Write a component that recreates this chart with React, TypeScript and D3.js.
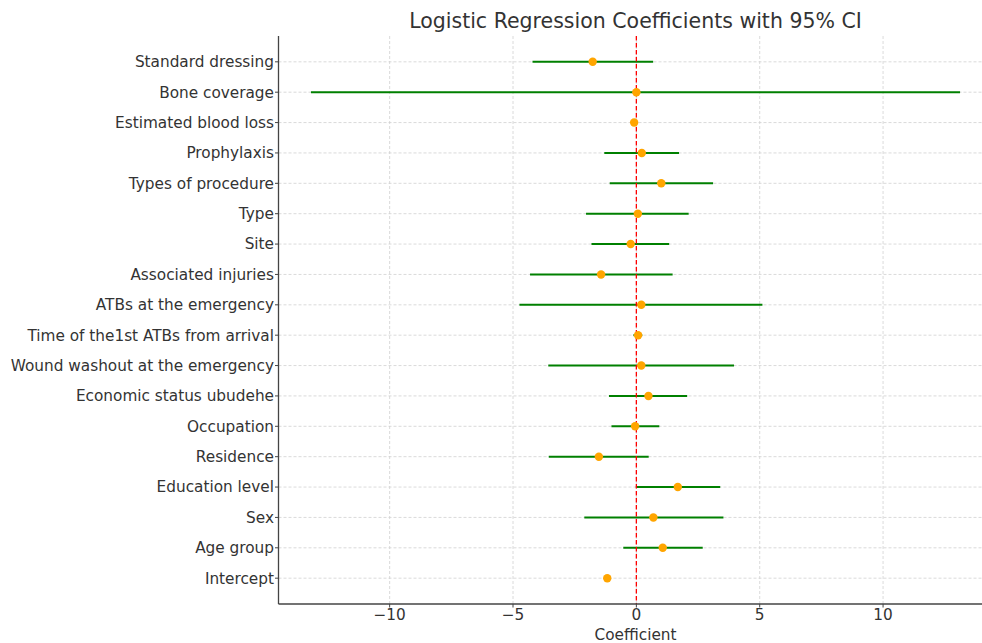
import React from "react";
import * as d3 from "d3";

// variables listed top to bottom as in the figure
const variables = [
  "Standard dressing",
  "Bone coverage",
  "Estimated blood loss",
  "Prophylaxis",
  "Types of procedure",
  "Type",
  "Site",
  "Associated injuries",
  "ATBs at the emergency",
  "Time of the1st ATBs from arrival",
  "Wound washout at the emergency",
  "Economic status ubudehe",
  "Occupation",
  "Residence",
  "Education level",
  "Sex",
  "Age group",
  "Intercept",
];
const coef = [-1.77, 0.0, -0.09, 0.22, 1.01, 0.06, -0.23, -1.43, 0.2, 0.07, 0.2, 0.49, -0.05, -1.52, 1.68, 0.69, 1.07, -1.18];
const ciLow = [-4.21, -13.19, -0.13, -1.3, -1.08, -2.04, -1.82, -4.31, -4.74, -0.12, -3.57, -1.11, -1.01, -3.55, -0.02, -2.11, -0.53, null];
const ciHigh = [0.68, 13.12, -0.05, 1.73, 3.11, 2.12, 1.33, 1.47, 5.11, 0.24, 3.96, 2.06, 0.93, 0.5, 3.4, 3.53, 2.69, null];
const xTicks = [-10, -5, 0, 5, 10];

const W = 982;
const H = 643;
const font = "DejaVu Sans, sans-serif";

export default function App() {
  const left = 278.5;
  const right = 992.5;
  const top = 36;
  const bottom = 604;

  const lows = ciLow.filter((d) => d !== null) as number[];
  const highs = ciHigh.filter((d) => d !== null) as number[];
  const lo = d3.min(lows)!;
  const hi = d3.max(highs)!;
  const pad = (hi - lo) * 0.05;
  const x = d3.scaleLinear().domain([lo - pad, hi + pad]).range([left, right]);

  const n = variables.length;
  const m = (n - 1) * 0.05;
  // index 0 at the top
  const y = d3.scaleLinear().domain([-m, n - 1 + m]).range([top, bottom]);

  return (
    <svg width={W} height={H} style={{ position: "absolute", left: 0, top: 0, background: "#fff" }} fontFamily={font}>
      <defs>
        <clipPath id="plot">
          <rect x={left} y={top} width={right - left} height={bottom - top} />
        </clipPath>
      </defs>
      {/* grid */}
      <g stroke="#d0d0d0" strokeWidth={0.8} strokeDasharray="3,2">
        {xTicks.map((t) => (
          <line key={t} x1={x(t)} x2={x(t)} y1={top} y2={bottom} />
        ))}
        {variables.map((v, i) => (
          <line key={v} x1={left} x2={right} y1={y(i)} y2={y(i)} />
        ))}
      </g>
      <g clipPath="url(#plot)">
        {variables.map((v, i) =>
          ciLow[i] !== null ? (
            <line key={v} x1={x(ciLow[i] as number)} x2={x(ciHigh[i] as number)} y1={y(i)} y2={y(i)} stroke="green" strokeWidth={2} />
          ) : null
        )}
        <line x1={x(0)} x2={x(0)} y1={top} y2={bottom} stroke="red" strokeWidth={1.3} strokeDasharray="4.5,2.5" />
        {variables.map((v, i) => (
          <circle key={v} cx={x(coef[i])} cy={y(i)} r={4.2} fill="orange" />
        ))}
      </g>
      {/* spines */}
      <g stroke="#444" strokeWidth={1.3}>
        <line x1={left} x2={left} y1={top} y2={bottom} />
        <line x1={left} x2={right} y1={bottom} y2={bottom} />
      </g>
      {/* x axis */}
      {xTicks.map((t) => (
        <g key={t}>
          <line x1={x(t)} x2={x(t)} y1={bottom} y2={bottom + 3.5} stroke="#444" />
          <text x={x(t)} y={bottom + 15.5} textAnchor="middle" fontSize={15.3} fill="#333">
            {t < 0 ? "\u2212" + Math.abs(t) : String(t)}
          </text>
        </g>
      ))}
      {/* y axis */}
      {variables.map((v, i) => (
        <g key={v}>
          <line x1={left - 3.5} x2={left} y1={y(i)} y2={y(i)} stroke="#444" />
          <text x={left - 4.5} y={y(i)} dy="0.35em" textAnchor="end" fontSize={15.3} fill="#333">
            {v}
          </text>
        </g>
      ))}
      <text x={(left + right) / 2} y={640} textAnchor="middle" fontSize={15.3} fill="#333">
        Coefficient
      </text>
      <text x={(left + right) / 2} y={28} textAnchor="middle" fontSize={20.5} fill="#333">
        Logistic Regression Coefficients with 95% CI
      </text>
    </svg>
  );
}
